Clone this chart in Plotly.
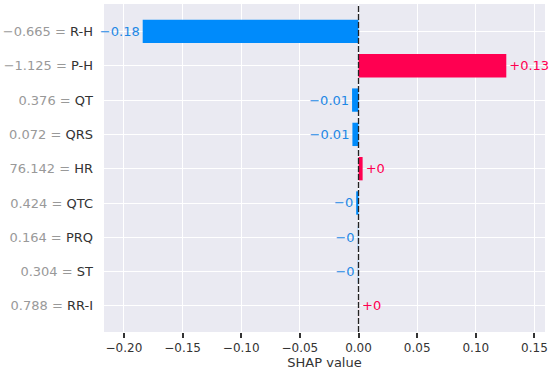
import plotly.graph_objects as go

features = ["R-H", "P-H", "QT", "QRS", "HR", "QTC", "PRQ", "ST", "RR-I"]
feature_values = ["\u22120.665", "\u22121.125", "0.376", "0.072", "76.142", "0.424", "0.164", "0.304", "0.788"]
shap_values = [-0.184, 0.126, -0.0055, -0.0052, 0.0035, -0.002, -0.0008, -0.0008, 0.0005]
bar_colors = ["#008bfb", "#ff0051", "#008bfb", "#008bfb", "#ff0051", "#008bfb",
              "rgba(0,139,251,0.35)", "rgba(0,139,251,0.35)", "rgba(255,0,81,0.2)"]
xticks = [-0.20, -0.15, -0.10, -0.05, 0.00, 0.05, 0.10, 0.15]


def fmt(v):
    r = round(v, 2)
    if r == 0:
        r = 0.0
    s = ("%.2f" % abs(r)).rstrip("0").rstrip(".")
    return ("+" if v >= 0 else "\u2212") + s


text = [fmt(v) for v in shap_values]
text_colors = ["#1e88e5" if v < 0 else "#ff0051" for v in shap_values]
ticktext = [f"<span style='color:#999999'>{fv} = </span><span style='color:#333333'>{f}</span>"
            for fv, f in zip(feature_values, features)]

fig = go.Figure(go.Bar(
    x=shap_values, y=features, orientation="h",
    marker=dict(color=bar_colors, line=dict(width=0)),
    width=0.68,
    text=text, textposition="outside", textfont=dict(color=text_colors, size=13),
    cliponaxis=False,
))

fig.add_shape(type="line", x0=0, x1=0, xref="x", y0=0, y1=1, yref="paper",
              line=dict(color="#222222", width=1.3, dash="6px,2px"), layer="above")

fig.update_layout(
    width=550, height=371,
    margin=dict(l=104, r=5, t=4, b=39, autoexpand=False),
    paper_bgcolor="white", plot_bgcolor="#eaeaf2",
    font=dict(family="DejaVu Sans", size=12, color="#333333"),
    showlegend=False,
    xaxis=dict(range=[-0.217, 0.159], tickvals=xticks, automargin=False,
               ticktext=[("\u2212" if t < 0 else "") + "%.2f" % abs(t) for t in xticks],
               showgrid=True, gridcolor="white", gridwidth=1.2, zeroline=False,
               ticks="outside", ticklen=5, tickwidth=1.5, tickcolor="#333333",
               tickfont=dict(size=12, color="#333333"),
               title=dict(text="SHAP value", font=dict(size=13, color="#333333"), standoff=2)),
    yaxis=dict(categoryorder="array", categoryarray=features, range=[8.76, -0.8],
               tickvals=features, ticktext=ticktext, tickfont=dict(size=13), automargin=False,
               showgrid=True, gridcolor="white", gridwidth=1.2, zeroline=False,
               ticks="", ticklabelstandoff=10),
)

fig.write_html("out.html", config={"displayModeBar": False},
               post_script="document.body.style.margin='0px';document.body.style.overflow='hidden';")
